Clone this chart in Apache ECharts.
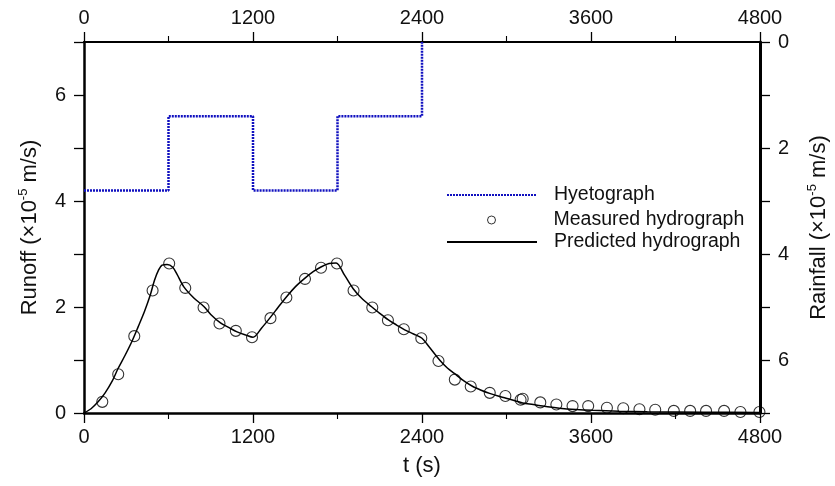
<!DOCTYPE html>
<html>
<head>
<meta charset="utf-8">
<script src="https://cdn.jsdelivr.net/npm/echarts@6/dist/echarts.min.js"></script>
<style>
html,body{margin:0;padding:0;background:#fff;}
#chart{width:835px;height:486px;}
</style>
</head>
<body>
<div id="chart"></div>
<script>
// Hyetograph (rainfall intensity, x10^-5 m/s), plotted on the inverted right axis
const rainT = [0, 600, 1200, 1800, 2400];
const rainI = [2.8, 1.4, 2.8, 1.4, 0];

// Measured hydrograph (runoff, x10^-5 m/s)
const measT = [130, 243, 357, 487, 605, 719, 849, 962, 1078, 1193, 1324, 1437, 1569, 1683, 1796,
  1914, 2047, 2158, 2271, 2395, 2517, 2633, 2746, 2881, 2992, 3100, 3115, 3240, 3354, 3469, 3580,
  3713, 3829, 3944, 4056, 4188, 4304, 4417, 4545, 4661, 4796];
const measQ = [0.21, 0.73, 1.45, 2.31, 2.82, 2.36, 1.99, 1.69, 1.55, 1.43, 1.79, 2.18, 2.53, 2.74, 2.82,
  2.31, 1.99, 1.75, 1.58, 1.41, 0.98, 0.63, 0.50, 0.38, 0.32, 0.25, 0.27, 0.20, 0.16, 0.13, 0.13,
  0.10, 0.09, 0.07, 0.06, 0.04, 0.04, 0.04, 0.04, 0.02, 0.02];

// Predicted hydrograph
const predT = [0, 50, 100, 150, 200, 240, 290, 340, 385, 430, 470, 500, 530, 555, 590, 630, 660, 709,
  780, 851, 900, 969, 1030, 1087, 1150, 1200, 1260, 1319, 1380, 1437, 1500, 1567, 1630, 1686, 1740,
  1790, 1850, 1910, 1970, 2040, 2100, 2159, 2220, 2277, 2340, 2400, 2450, 2525, 2580, 2643, 2700,
  2761, 2820, 2880, 2940, 2997, 3060, 3115, 3190, 3257, 3375, 3494, 3612, 3800, 4000, 4400, 4800];
const predQ = [0, 0.08, 0.21, 0.38, 0.6, 0.83, 1.08, 1.35, 1.63, 1.92, 2.22, 2.5, 2.7, 2.79, 2.8, 2.75, 2.62, 2.38,
  2.17, 2.01, 1.86, 1.70, 1.61, 1.53, 1.47, 1.43, 1.6, 1.79, 2.0, 2.19, 2.38, 2.54, 2.67, 2.76, 2.82,
  2.83, 2.6, 2.35, 2.17, 2.01, 1.88, 1.76, 1.66, 1.57, 1.49, 1.41, 1.25, 1.0, 0.85, 0.72, 0.6,
  0.50, 0.43, 0.37, 0.32, 0.28, 0.23, 0.19, 0.16, 0.13, 0.09, 0.065, 0.05, 0.035, 0.025, 0.015, 0.01];

const FONT = "'Liberation Sans', Arial, Helvetica, sans-serif";
const TXT = '#111';
const TICK_FS = 20;
const TITLE_FS = 22;

function xAxisCfg(pos, name, lineW) {
  return {
    type: 'value', position: pos, min: 0, max: 4800, interval: 1200,
    name: name, nameLocation: 'middle', nameGap: 42,
    nameTextStyle: {fontFamily: FONT, fontSize: TITLE_FS, color: TXT},
    axisLine: {show: true, onZero: false, lineStyle: {color: '#000', width: lineW}},
    axisTick: {show: true, inside: false, length: 10, lineStyle: {color: '#000', width: 1.3}},
    minorTick: {show: true, splitNumber: 2, length: 6, lineStyle: {color: '#000', width: 1.1}},
    axisLabel: {show: true, margin: 14, fontFamily: FONT, fontSize: TICK_FS, color: TXT,
      formatter: v => String(v)},
    splitLine: {show: false}
  };
}
function yAxisCfg(pos, name, lineW, inverse, gap) {
  return {
    type: 'value', position: pos, min: 0, max: 7, interval: 1, inverse: inverse,
    name: name, nameLocation: 'middle', nameGap: gap, nameRotate: 90,
    nameTextStyle: {fontFamily: FONT, fontSize: TITLE_FS, color: TXT,
      rich: {n: {fontFamily: FONT, fontSize: TITLE_FS, color: TXT, lineHeight: 26},
             sup: {fontFamily: FONT, fontSize: 13, color: TXT, verticalAlign: 'top', lineHeight: 26}}},
    axisLine: {show: true, onZero: false, lineStyle: {color: '#000', width: lineW}},
    axisTick: {show: true, inside: false, length: 10, lineStyle: {color: '#000', width: 1.3}},
    axisLabel: {show: true, margin: 18, fontFamily: FONT, fontSize: TICK_FS, color: TXT,
      formatter: v => (v % 2 === 0 ? String(v) : '')},
    splitLine: {show: false}
  };
}

const chart = echarts.init(document.getElementById('chart'), null, {renderer: 'canvas'});
const legendText = {fontFamily: FONT, fontSize: 19.5, color: TXT, lineHeight: 20, padding: [0, 0, 0, 12]};
// 90x14 box with a small centred circle (invisible corner points keep the box size)
const circleIcon = 'path://M0,0 M90,14 M41,7 A4,4 0 1,0 49,7 A4,4 0 1,0 41,7 Z';
chart.setOption({
  animation: false,
  backgroundColor: '#fff',
  grid: {left: 84, right: 75, top: 42, bottom: 73, containLabel: false, outerBoundsMode: 'none'},
  xAxis: [xAxisCfg('bottom', 't (s)', 2.5), Object.assign(xAxisCfg('top', '', 2), {name: ''})],
  yAxis: [
    yAxisCfg('left', '{n|Runoff (×10}{sup|-5}{n| m/s)}', 2.5, false, 41),
    yAxisCfg('right', '{n|Rainfall (×10}{sup|-5}{n| m/s)}', 3, true, 46)
  ],
  legend: [
    {data: ['Hyetograph'], left: 446, top: 185, padding: 0, itemWidth: 90, itemHeight: 14,
     itemStyle: {opacity: 0}, textStyle: legendText},
    {data: [{name: 'Measured hydrograph', icon: circleIcon,
             itemStyle: {color: '#fff', borderColor: '#000', borderWidth: 1}}],
     left: 446, top: 210, padding: 0, itemWidth: 90, itemHeight: 14, textStyle: legendText},
    {data: ['Predicted hydrograph'], left: 446, top: 232, padding: 0, itemWidth: 90, itemHeight: 14,
     itemStyle: {opacity: 0}, textStyle: legendText}
  ],
  series: [
    {
      name: 'Hyetograph', type: 'line', xAxisIndex: 0, yAxisIndex: 1, step: 'end',
      data: rainT.map((t, i) => [t, rainI[i]]),
      showSymbol: false, symbol: 'none', clip: false,
      lineStyle: {color: '#1010c0', width: 2.5, type: [2, 1]},
      itemStyle: {color: '#1010c0'}
    },
    {
      name: 'Measured hydrograph', type: 'scatter', xAxisIndex: 0, yAxisIndex: 0,
      data: measT.map((t, i) => [t, measQ[i]]),
      symbol: 'circle', symbolSize: 11, clip: false,
      itemStyle: {color: 'rgba(255,255,255,0)', borderColor: '#000', borderWidth: 1.1}
    },
    {
      name: 'Predicted hydrograph', type: 'line', xAxisIndex: 0, yAxisIndex: 0, smooth: 0.3,
      data: predT.map((t, i) => [t, predQ[i]]),
      showSymbol: false, symbol: 'none',
      lineStyle: {color: '#000', width: 1.5},
      itemStyle: {color: '#000'}
    }
  ]
});
</script>
</body>
</html>
